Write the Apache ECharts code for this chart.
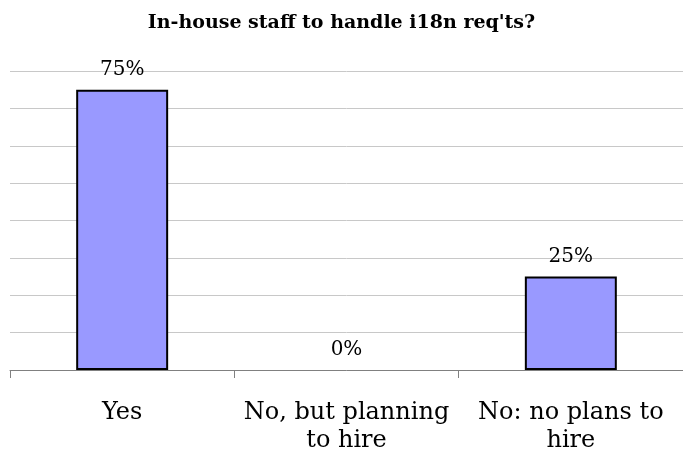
<!DOCTYPE html>
<html>
<head>
<meta charset="utf-8">
<script src="https://cdn.jsdelivr.net/npm/echarts@6/dist/echarts.min.js"></script>
<style>
  html, body { margin: 0; padding: 0; background: #ffffff; }
  #chart { width: 683px; height: 460px; }
</style>
</head>
<body>
<div id="chart"></div>
<script>
// Survey answers and their share of respondents (%)
const categories = ['Yes', 'No, but planning\nto hire', 'No: no plans to\nhire'];
const shares = [75, 0, 25];
const chartTitle = "In-house staff to handle i18n req'ts?";

const serif = '"DejaVu Serif", "Liberation Serif", serif';

// An empty bar gets no outline, so only its label shows
const barData = shares.map(v => (v === 0 ? { value: v, itemStyle: { borderWidth: 0 } } : v));

const chart = echarts.init(document.getElementById('chart'));
chart.setOption({
  animation: false,
  backgroundColor: '#ffffff',
  title: {
    text: chartTitle,
    left: 'center',
    top: 9,
    textStyle: { fontFamily: serif, fontWeight: 'bold', fontSize: 19, color: '#000000' }
  },
  grid: { left: 10, right: -7, top: 71, bottom: 90, containLabel: false },
  xAxis: {
    type: 'category',
    data: categories,
    axisLine: { lineStyle: { color: '#808080', width: 1 } },
    axisTick: { show: true, length: 8, lineStyle: { color: '#808080' } },
    axisLabel: {
      fontFamily: serif, fontSize: 24, color: '#000000',
      lineHeight: 28, margin: 29, interval: 0
    }
  },
  yAxis: {
    type: 'value',
    min: 0, max: 80, interval: 10,
    axisLine: { show: false },
    axisTick: { show: false },
    axisLabel: { show: false },
    splitLine: { lineStyle: { color: '#c8c8c8', width: 1 } }
  },
  series: [{
    type: 'bar',
    data: barData,
    barWidth: '41%',
    itemStyle: { color: '#9999ff', borderColor: '#000000', borderWidth: 2 },
    label: {
      show: true, position: 'top', distance: 10,
      formatter: '{c}%',
      fontFamily: serif, fontSize: 20, color: '#000000'
    }
  }]
});
</script>
</body>
</html>
